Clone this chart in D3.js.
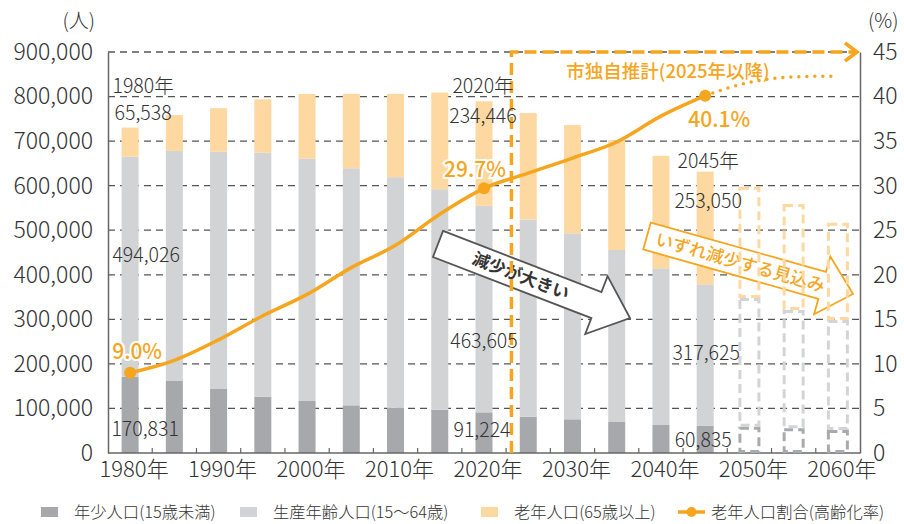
<!DOCTYPE html>
<html lang="ja">
<head>
<meta charset="utf-8">
<title>人口の推移</title>
<script src="https://d3js.org/d3.v7.min.js"></script>
<style>
  body { margin: 0; background: #fff; }
  svg text { font-family: "Noto Sans CJK JP", "Noto Sans", sans-serif; fill: #333; font-weight: 300; }
</style>
</head>
<body>
<script>
// data
var years = ["1980", "1985", "1990", "1995", "2000", "2005", "2010", "2015", "2020", "2025", "2030", "2035", "2040", "2045"];
var youth = [170831, 161600, 143600, 126000, 116700, 107000, 101700, 97000, 91224, 81500, 75600, 69600, 62800, 60835];
var working = [494026, 516400, 532400, 548000, 544300, 532000, 517300, 495000, 463605, 442500, 417400, 386000, 351700, 317625];
var elderly = [65538, 80500, 98000, 120000, 144700, 167000, 187000, 217000, 234446, 239000, 243000, 246400, 252500, 253050];
var rate = [9.0, 10.4, 12.7, 15.4, 17.8, 20.8, 23.3, 26.8, 29.7, 31.4, 33.1, 34.9, 37.8, 40.1];

var projYears = ["2050", "2055", "2060"];
var projYouth = [59000, 55400, 51600];
var projWorking = [289000, 265600, 246900];
var projElderly = [249600, 238000, 218500];
var projRateYears = ["2045", "2050", "2055", "2060"];
var projRate = [40.1, 41.6, 42.2, 42.3];

var allYears = years.concat(projYears);
var decadeLabels = ["1980", "1990", "2000", "2010", "2020", "2030", "2040", "2050", "2060"];
var popTicks = [0, 100000, 200000, 300000, 400000, 500000, 600000, 700000, 800000, 900000];
var rateTicks = [0, 5, 10, 15, 20, 25, 30, 35, 40, 45];

var keys = ["youth", "working", "elderly"];
var legendNames = ["年少人口(15歳未満)", "生産年齢人口(15～64歳)", "老年人口(65歳以上)", "老年人口割合(高齢化率)"];

// colours
var cYouth = "#a7a8ab", cWorking = "#d2d3d5", cElderly = "#fdd8a1";
var orange = "#f5a51e";
var colors = { youth: cYouth, working: cWorking, elderly: cElderly };

// size
var w = 904, h = 524;
var mLeft = 108, mRight = 860, mTop = 52, mBottom = 453;

var svg = d3.select("body").append("svg")
    .attr("width", w)
    .attr("height", h);

var x = d3.scaleBand().domain(allYears).range([mLeft, mRight]);
var bw = x.bandwidth();
var barW = 17;
function cx(d) { return x(d) + bw / 2; }

var yL = d3.scaleLinear().domain([0, 900000]).range([mBottom, mTop]);
var yR = d3.scaleLinear().domain([0, 45]).range([mBottom, mTop]);

// gridlines
svg.append("g").selectAll("line")
    .data(popTicks.slice(1))
    .enter().append("line")
    .attr("x1", mLeft).attr("x2", mRight)
    .attr("y1", function (d) { return yL(d); })
    .attr("y2", function (d) { return yL(d); })
    .attr("stroke", "#555")
    .attr("stroke-width", 1.3)
    .attr("stroke-dasharray", "7,5");

// stacked bars
var rows = years.map(function (d, i) {
    return { year: d, youth: youth[i], working: working[i], elderly: elderly[i] };
});
var stacked = d3.stack().keys(keys)(rows);

svg.append("g").selectAll("g")
    .data(stacked)
    .enter().append("g")
    .attr("fill", function (s) { return colors[s.key]; })
    .selectAll("rect")
    .data(function (s) { return s; })
    .enter().append("rect")
    .attr("x", function (d) { return cx(d.data.year) - barW / 2; })
    .attr("y", function (d) { return yL(d[1]); })
    .attr("width", barW)
    .attr("height", function (d) { return yL(d[0]) - yL(d[1]); });

// axes
svg.append("g")
    .attr("transform", "translate(" + mLeft + ",0)")
    .call(d3.axisLeft(yL).tickValues(popTicks).tickFormat(d3.format(",")).tickSize(0).tickPadding(15))
    .call(function (g) {
        g.select(".domain").attr("stroke", "#666").attr("stroke-width", 1.5);
        g.selectAll("text").attr("font-size", 23).attr("fill", "#333").attr("font-family", null);
    });

svg.append("g")
    .attr("transform", "translate(" + mRight + ",0)")
    .call(d3.axisRight(yR).tickValues(rateTicks).tickSize(0).tickPadding(13))
    .call(function (g) {
        g.select(".domain").attr("stroke", "#666").attr("stroke-width", 1.5);
        g.selectAll("text").attr("font-size", 23).attr("fill", "#333").attr("font-family", null);
    });

svg.append("line")
    .attr("x1", mLeft).attr("x2", mRight)
    .attr("y1", mBottom).attr("y2", mBottom)
    .attr("stroke", "#666").attr("stroke-width", 1.5);

svg.append("g").selectAll("line")
    .data(allYears.slice(1))
    .enter().append("line")
    .attr("x1", function (d) { return x(d); })
    .attr("x2", function (d) { return x(d); })
    .attr("y1", mBottom).attr("y2", mBottom - 5)
    .attr("stroke", "#666").attr("stroke-width", 1.2);

svg.append("g").selectAll("text")
    .data(decadeLabels)
    .enter().append("text")
    .attr("x", function (d) { return cx(d) + 4; })
    .attr("y", mBottom + 24)
    .attr("text-anchor", "middle")
    .attr("font-size", 22)
    .text(function (d) { return d + "年"; });

svg.append("text").attr("x", 95).attr("y", 28)
    .attr("text-anchor", "end").attr("font-size", 20).text("(人)");
svg.append("text").attr("x", 868).attr("y", 28)
    .attr("font-size", 20).text("(%)");

// arrows (annotations)
function blockArrow(x0, y0, x1, y1, bodyH, headH, headL, stroke) {
    var dx = x1 - x0, dy = y1 - y0;
    var L = Math.sqrt(dx * dx + dy * dy);
    var ang = Math.atan2(dy, dx) * 180 / Math.PI;
    var g = svg.append("g")
        .attr("transform", "translate(" + x0 + "," + y0 + ") rotate(" + ang + ")");
    var pts = [[0, -bodyH], [L - headL, -bodyH], [L - headL, -headH], [L, 0],
        [L - headL, headH], [L - headL, bodyH], [0, bodyH]];
    g.append("path")
        .attr("d", d3.line()(pts) + "Z")
        .attr("fill", "#fff")
        .attr("stroke", stroke)
        .attr("stroke-width", 1.8)
        .attr("stroke-linejoin", "miter");
    return { g: g, L: L };
}

var a1 = blockArrow(438, 244, 630, 318, 14, 31, 36, "#555");
a1.g.append("text")
    .attr("x", (a1.L - 36) / 2 + 4).attr("y", 6)
    .attr("text-anchor", "middle")
    .attr("font-size", 17).style("font-weight", 700)
    .style("fill", "#333")
    .text("減少が大きい");

// line (ageing rate)
var rateRows = years.map(function (d, i) { return { year: d, v: rate[i] }; });
var line = d3.line()
    .x(function (d) { return cx(d.year); })
    .y(function (d) { return yR(d.v); })
    .curve(d3.curveMonotoneX);

svg.append("path")
    .datum(rateRows)
    .attr("d", line)
    .attr("fill", "none")
    .attr("stroke", orange)
    .attr("stroke-width", 3.5);

var projRows = projRateYears.map(function (d, i) { return { year: d, v: projRate[i] }; });
svg.append("path")
    .datum(projRows)
    .attr("d", line)
    .attr("fill", "none")
    .attr("stroke", orange)
    .attr("stroke-width", 3.5)
    .attr("stroke-linecap", "round")
    .attr("stroke-dasharray", "0,8");

svg.append("g").selectAll("circle")
    .data(rateRows.filter(function (d) { return d.year === "1980" || d.year === "2020" || d.year === "2045"; }))
    .enter().append("circle")
    .attr("cx", function (d) { return cx(d.year); })
    .attr("cy", function (d) { return yR(d.v); })
    .attr("r", 6)
    .attr("fill", orange);

// arrow 2 and projected bars
var a2 = blockArrow(647, 236, 853, 294, 14, 30, 32, orange);

var pRows = projYears.map(function (d, i) {
    return { year: d, youth: projYouth[i], working: projWorking[i], elderly: projElderly[i] };
});
var pStacked = d3.stack().keys(keys)(pRows);
var projColors = { youth: "#a9aaad", working: "#d3d4d6", elderly: "#fdd8a1" };
svg.append("g").selectAll("g")
    .data(pStacked)
    .enter().append("g")
    .attr("stroke", function (s) { return projColors[s.key]; })
    .selectAll("rect")
    .data(function (s) { return s; })
    .enter().append("rect")
    .attr("x", function (d) { return cx(d.data.year) - 9.5; })
    .attr("y", function (d) { return yL(d[1]) + 1.5; })
    .attr("width", 19)
    .attr("height", function (d) { return yL(d[0]) - yL(d[1]) - 3; })
    .attr("fill", "none")
    .attr("stroke-width", 3)
    .attr("stroke-dasharray", "9,5");

a2.g.append("text")
    .attr("x", (a2.L - 32) / 2 + 6).attr("y", 6.5)
    .attr("text-anchor", "middle")
    .attr("font-size", 17.5).style("font-weight", 500)
    .style("fill", orange)
    .text("いずれ減少する見込み");

// projection frame
var px = cx("2020") + bw * 0.62;
svg.append("path")
    .attr("d", "M" + px + "," + mBottom + "V" + mTop + "H" + (mRight - 4))
    .attr("fill", "none")
    .attr("stroke", orange)
    .attr("stroke-width", 3.5)
    .attr("stroke-dasharray", "12,6");
svg.append("path")
    .attr("d", "M" + (mRight - 15) + "," + (mTop - 9) + "L" + (mRight - 3) + "," + mTop + "L" + (mRight - 15) + "," + (mTop + 9))
    .attr("fill", "none")
    .attr("stroke", orange)
    .attr("stroke-width", 3.5);
svg.append("text")
    .attr("x", 668).attr("y", 78)
    .attr("text-anchor", "middle")
    .attr("font-size", 18.5).style("font-weight", 500)
    .style("fill", orange)
    .text("市独自推計(2025年以降)");

// value labels: [year, text, y in people, dx]
var valueLabels = [
    ["1980", "1980年", 808000, 13], ["1980", "65,538", 747000, 13],
    ["1980", "494,026", 428600, 16], ["1980", "170,831", 38000, 15],
    ["2020", "2020年", 808000, -1], ["2020", "234,446", 740600, -1],
    ["2020", "463,605", 235600, 0], ["2020", "91,224", 35900, -2],
    ["2045", "2045年", 639600, 3], ["2045", "253,050", 549800, 3],
    ["2045", "317,625", 208700, 1], ["2045", "60,835", 13500, -2]
];
svg.append("g").selectAll("text")
    .data(valueLabels)
    .enter().append("text")
    .attr("x", function (d) { return cx(d[0]) + d[3]; })
    .attr("y", function (d) { return yL(d[2]); })
    .attr("text-anchor", "middle")
    .attr("font-size", 19.5)
    .text(function (d) { return d[1]; });

// rate labels: [year, text, y in %, dx]
var rateLabels = [["1980", "9.0%", 10.55, 7], ["2020", "29.7%", 31.0, -9], ["2045", "40.1%", 36.6, 14]];
svg.append("g").selectAll("text")
    .data(rateLabels)
    .enter().append("text")
    .attr("x", function (d) { return cx(d[0]) + d[3]; })
    .attr("y", function (d) { return yR(d[2]); })
    .attr("text-anchor", "middle")
    .attr("font-size", 21).style("font-weight", 500)
    .attr("stroke", "#fff").attr("stroke-width", 4).attr("paint-order", "stroke")
    .style("fill", orange)
    .text(function (d) { return d[1]; });

// legend
var legendX = [41, 240, 481, 678];
var lg = svg.append("g").attr("transform", "translate(0,512)");
[cYouth, cWorking, cElderly].forEach(function (c, i) {
    lg.append("rect").attr("x", legendX[i]).attr("y", -5).attr("width", 17).attr("height", 10).attr("fill", c);
});
lg.append("line").attr("x1", legendX[3]).attr("x2", legendX[3] + 27).attr("y1", 0).attr("y2", 0)
    .attr("stroke", orange).attr("stroke-width", 3.5);
lg.append("circle").attr("cx", legendX[3] + 13.5).attr("cy", 0).attr("r", 5).attr("fill", orange);
legendNames.forEach(function (t, i) {
    lg.append("text")
        .attr("x", legendX[i] + 33)
        .attr("y", 6)
        .attr("font-size", 16.3)
        .text(t);
});
</script>
</body>
</html>
